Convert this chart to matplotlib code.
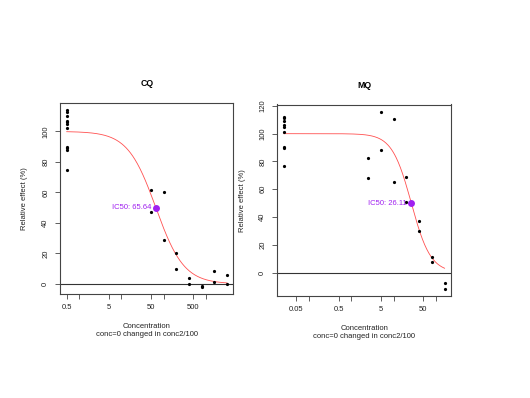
import numpy as np
import matplotlib
matplotlib.use("Agg")
import matplotlib.pyplot as plt

plt.rcParams['font.family'] = ['Liberation Sans', 'DejaVu Sans']

# ---- data: CQ ----
cq_conc = [0.5]*11 + [50, 50, 100, 100, 200, 200, 400, 400, 800, 800, 1600, 1600, 3200, 3200]
cq_eff = [114, 113, 110, 107, 106, 105, 102.5, 90, 89, 88, 74.6,
          61.8, 47.2, 60.2, 29.1, 20.0, 9.6, 3.9, 0.2, -1.5, -2.0, 8.5, 1.5, 5.7, 0.2]
cq_ic50 = 65.64
cq_slope = 1.3
cq_xticks = [0.5, 1, 5, 10, 50, 100, 500, 1000]
cq_xlabels = ["0.5", "", "5", "", "50", "", "500", ""]
cq_yticks = [0, 20, 40, 60, 80, 100]

# ---- data: MQ ----
mq_conc = [0.025]*9 + [2.5, 2.5, 5, 5, 10, 10, 20, 20, 40, 40, 80, 80, 160, 160]
mq_eff = [112, 111, 109, 106, 105, 101.5, 90.5, 89.5, 76.5,
          82.3, 68.2, 115.9, 88.3, 110.4, 65.5, 68.6, 50.6, 37.4, 29.8, 11.0, 7.4, -7.7, -11.8]
mq_ic50 = 26.11
mq_slope = 1.9
mq_xticks = [0.05, 0.1, 0.5, 1, 5, 10, 50, 100]
mq_xlabels = ["0.05", "", "0.5", "", "5", "", "50", ""]
mq_yticks = [0, 20, 40, 60, 80, 100, 120]

W, H = 530, 398
fig = plt.figure(figsize=(W/100, H/100), dpi=100)

def px_axes(x0, y0, x1, y1):
    return fig.add_axes([x0/W, 1 - y1/H, (x1-x0)/W, (y1-y0)/H])

FS = 5.5
SPINE = '#444444'

def panel(ax, conc, eff, ic50, slope, xticks, xlabels, yticks, title, ylabpos):
    conc = np.array(conc, float)
    eff = np.array(eff, float)
    ax.set_xscale('log')
    lo, hi = np.log10(conc.min()), np.log10(conc.max())
    d = (hi - lo) * 0.04
    ax.set_xlim(10**(lo - d), 10**(hi + d))
    ylo, yhi = eff.min(), eff.max()
    dy = (yhi - ylo) * 0.04
    ax.set_ylim(ylo - dy, yhi + dy)
    ax.axhline(0, color='#333333', lw=0.8, zorder=1)
    xs = np.logspace(lo, hi, 300)
    ys = 100 / (1 + (xs / ic50) ** slope)
    ax.plot(xs, ys, color='#FF5050', lw=0.6, zorder=2)
    ax.plot(conc, eff, 'o', color='black', ms=2.3, mew=0, zorder=3)
    ax.plot([ic50], [50], 'o', color='#A020F0', ms=5.0, mew=0, zorder=4)
    ax.annotate(f"IC50: {ic50:.2f}", (ic50, 50), xytext=(-3.2, 0),
                textcoords='offset points', ha='right', va='center',
                color='#A020F0', fontsize=FS, zorder=5)
    ax.set_xticks(xticks)
    ax.set_xticklabels(xlabels)
    ax.xaxis.set_minor_locator(matplotlib.ticker.NullLocator())
    ax.set_yticks(yticks)
    ax.set_yticklabels([str(v) for v in yticks], rotation=90, va='center')
    ax.tick_params(axis='both', length=3.5, width=0.6, color=SPINE,
                   labelsize=FS, labelcolor='#222222', pad=3.5)
    ax.tick_params(axis='y', pad=4.5)
    for s in ax.spines.values():
        s.set_color(SPINE)
        s.set_linewidth(0.8)
    ax.set_ylabel("Relative effect (%)", fontsize=FS, color='#222222')
    ax.yaxis.set_label_coords(ylabpos, 0.5)
    ax.set_xlabel("Concentration\nconc=0 changed in conc2/100", fontsize=FS,
                  color='#222222', linespacing=1.2, labelpad=9)
    ax.set_title(title, fontsize=6.3, fontweight='bold', pad=12)

ax1 = px_axes(60.3, 103, 233.3, 294)
ax2 = px_axes(277.3, 104.5, 451, 296)
panel(ax1, cq_conc, cq_eff, cq_ic50, cq_slope, cq_xticks, cq_xlabels, cq_yticks, "CQ", -0.185)
panel(ax2, mq_conc, mq_eff, mq_ic50, mq_slope, mq_xticks, mq_xlabels, mq_yticks, "MQ", -0.18)

fig.savefig("out.png", dpi=100)
